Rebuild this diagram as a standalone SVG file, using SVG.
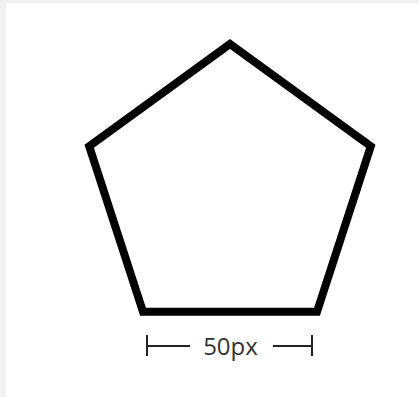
<svg xmlns="http://www.w3.org/2000/svg" width="419" height="397" viewBox="0 0 419 397">
  <style>
    .shape { fill: none; stroke: #000; stroke-width: 8; stroke-linejoin: miter; }
    .dim { stroke: #222; stroke-width: 2; fill: none; }
    .label { font-family: "Open Sans", "Liberation Sans", sans-serif; font-size: 24px; fill: #333; }
  </style>
  <rect x="0" y="0" width="419" height="397" fill="#f0f0f0"/>
  <rect x="6" y="3" width="413" height="394" fill="#ffffff"/>
  <g id="pentagon">
    <polygon class="shape" points="230,44 370.8,146.3 317,311.7 143,311.7 89.2,146.3"/>
  </g>
  <g id="dimension">
    <line class="dim" x1="147" y1="335" x2="147" y2="356"/>
    <line class="dim" x1="147" y1="346" x2="190" y2="346"/>
    <line class="dim" x1="273" y1="346" x2="312" y2="346"/>
    <line class="dim" x1="312" y1="335" x2="312" y2="356"/>
    <text class="label" x="230.5" y="355" text-anchor="middle">50px</text>
  </g>
</svg>
